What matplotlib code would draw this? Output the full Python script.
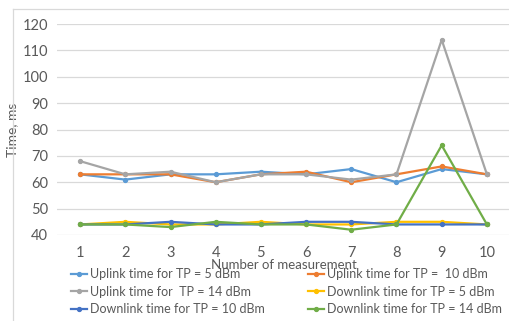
import matplotlib
matplotlib.use("Agg")
import matplotlib.pyplot as plt
from matplotlib.lines import Line2D

# ── Data ──────────────────────────────────────────────────────────────────────
measurements = [1, 2, 3, 4, 5, 6, 7, 8, 9, 10]
uplink_5  = [63, 61, 63, 63, 64, 63, 65, 60, 65, 63]
uplink_10 = [63, 63, 63, 60, 63, 64, 60, 63, 66, 63]
uplink_14 = [68, 63, 64, 60, 63, 63, 61, 63, 114, 63]
down_5    = [44, 45, 44, 44, 45, 44, 44, 45, 45, 44]
down_10   = [44, 44, 45, 44, 44, 45, 45, 44, 44, 44]
down_14   = [44, 44, 43, 45, 44, 44, 42, 44, 74, 44]

series = [
    ("Uplink time for TP = 5 dBm",     uplink_5,  "#5B9BD5"),
    ("Uplink time for TP =  10 dBm",   uplink_10, "#ED7D31"),
    ("Uplink time for  TP = 14 dBm",   uplink_14, "#A5A5A5"),
    ("Downlink time for TP = 5 dBm",   down_5,    "#FFC000"),
    ("Downlink time for TP = 10 dBm",  down_10,   "#4472C4"),
    ("Downlink time for TP = 14 dBm",  down_14,   "#70AD47"),
]

plt.rcParams["font.family"] = ["Lato", "DejaVu Sans"]
TXT = "#595959"

fig = plt.figure(figsize=(5.10, 3.21), dpi=100)
ax = fig.add_axes([57.5 / 510, 86 / 321, 452 / 510, 211 / 321])

handles = {}
for label, vals, col in series:
    ln, = ax.plot(measurements, vals, color=col, lw=1.6, marker="o",
                  markersize=2.8, label=label, zorder=3)
    handles[label] = ln

ax.set_xlim(0.5, 10.5)
ax.set_ylim(40, 120)
ax.set_yticks(range(40, 121, 10))
ax.set_xticks(measurements)
ax.grid(axis="y", color="#D9D9D9", lw=0.9)
ax.set_axisbelow(True)
for s in ax.spines.values():
    s.set_visible(False)
ax.tick_params(length=0, labelsize=10.5, colors=TXT, pad=7)
ax.tick_params(axis="x", pad=8)
ax.set_ylabel("Time, ms", fontsize=10, color=TXT, labelpad=3)
ax.set_xlabel("Number of measurement", fontsize=9.5, color=TXT, labelpad=-1)

# chart border (Excel frame)
fig.add_artist(Line2D([13 / 510, 13 / 510], [0, 1 - 9 / 321], color="#D9D9D9", lw=0.9))
fig.add_artist(Line2D([13 / 510, 1], [1 - 9 / 321, 1 - 9 / 321], color="#D9D9D9", lw=0.9))

left = [series[0][0], series[2][0], series[4][0]]
right = [series[1][0], series[3][0], series[5][0]]
kw = dict(loc="upper left", frameon=False, fontsize=9, handlelength=1.3,
          handletextpad=0.2, labelspacing=0.45, borderpad=0, borderaxespad=0,
          labelcolor=TXT)
fig.legend([handles[l] for l in left], left,
           bbox_to_anchor=(71 / 510, 1 - 268 / 321), **kw)
fig.legend([handles[l] for l in right], right,
           bbox_to_anchor=(308 / 510, 1 - 268 / 321), **kw)

fig.savefig("out.png", dpi=100)
